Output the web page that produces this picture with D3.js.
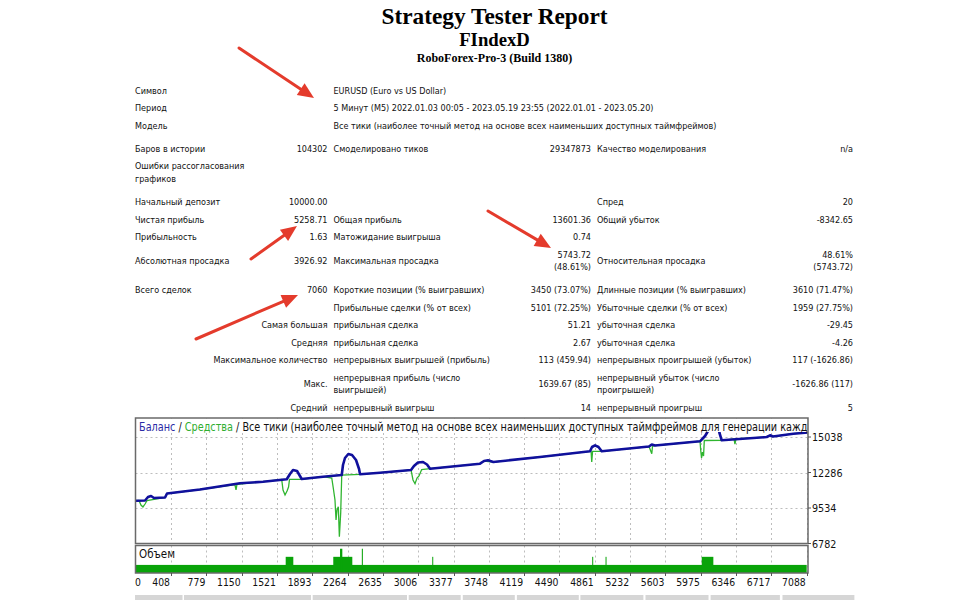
<!DOCTYPE html>
<head>
  <meta charset="utf-8">
  <script src="https://d3js.org/d3.v7.min.js"></script>
  <style>
    body { margin: 0; background: #fff; }
    svg { display: block; }
  </style>
</head>

<body>
  <svg width="954" height="600"></svg>

  <script>
    // ---- report table (text) ----
    const tableRows = [
      ['Символ', '', 'EURUSD (Euro vs US Dollar)', '', '', ''],
      ['Период', '', '5 Минут (M5) 2022.01.03 00:05 - 2023.05.19 23:55 (2022.01.01 - 2023.05.20)', '', '', ''],
      ['Модель', '', 'Все тики (наиболее точный метод на основе всех наименьших доступных таймфреймов)', '', '', ''],
      ['Баров в истории', '104302', 'Смоделировано тиков', '29347873', 'Качество моделирования', 'n/a'],
      ['Ошибки рассогласования\nграфиков', '', '', '', '', ''],
      ['Начальный депозит', '10000.00', '', '', 'Спред', '20'],
      ['Чистая прибыль', '5258.71', 'Общая прибыль', '13601.36', 'Общий убыток', '-8342.65'],
      ['Прибыльность', '1.63', 'Матожидание выигрыша', '0.74', '', ''],
      ['Абсолютная просадка', '3926.92', 'Максимальная просадка', '5743.72\n(48.61%)', 'Относительная просадка', '48.61%\n(5743.72)'],
      ['Всего сделок', '7060', 'Короткие позиции (% выигравших)', '3450 (73.07%)', 'Длинные позиции (% выигравших)', '3610 (71.47%)'],
      ['', '', 'Прибыльные сделки (% от всех)', '5101 (72.25%)', 'Убыточные сделки (% от всех)', '1959 (27.75%)'],
      ['', 'Самая большая', 'прибыльная сделка', '51.21', 'убыточная сделка', '-29.45'],
      ['', 'Средняя', 'прибыльная сделка', '2.67', 'убыточная сделка', '-4.26'],
      ['', 'Максимальное количество', 'непрерывных выигрышей (прибыль)', '113 (459.94)', 'непрерывных проигрышей (убыток)', '117 (-1626.86)'],
      ['', 'Макс.', 'непрерывная прибыль (число\nвыигрышей)', '1639.67 (85)', 'непрерывный убыток (число\nпроигрышей)', '-1626.86 (117)'],
      ['', 'Средний', 'непрерывный выигрыш', '14', 'непрерывный проигрыш', '5']
    ];
    const sectionStarts = [3, 5, 9];

    // ---- balance / equity chart ----
    const balanceTrades = [0, 135, 166, 198, 229, 345, 366, 712, 1133, 1375, 1624, 1658, 1690, 1732, 1763, 1781,
      2005, 2202, 2215, 2236, 2271, 2310, 2352, 2384, 2394, 2604, 2930, 2961, 3003, 3056, 3098, 3130,
      3655, 3697, 3739, 3795, 4285, 4811, 4832, 4864, 4900, 4934, 5431, 5460, 5494, 5967, 6020, 6051,
      6083, 6114, 6146, 6170, 6195, 6668, 6703, 6734, 6948, 7102];
    const balanceValues = [10080, 10115, 10387, 10464, 10309, 10348, 10658, 10968, 11449, 11573, 11759, 12170, 12480, 12402, 12015, 11782,
      11960, 12092, 12868, 13410, 13720, 13643, 13255, 12557, 12147, 12270, 12480, 12790, 13061, 13100, 12906, 12581,
      12968, 13177, 13232, 13100, 13488, 13929, 14263, 14395, 14263, 13929, 14302, 14457, 14379, 14705, 15116, 15503,
      16046, 16356, 16046, 15387, 14782, 15038, 15170, 15077, 15294, 15387];

    const equityTrades = [0, 71, 92, 113, 135, 156, 345, 366, 712, 1079, 1091, 1101, 1375, 1571, 1585, 1606, 1627, 1643, 1653, 1781,
      2005, 2097, 2113, 2131, 2142, 2152, 2166, 2177, 2191, 2202, 2394, 2604, 2930, 2951, 2972, 2993, 3014, 3042, 3130,
      3655, 3697, 3795, 4285, 4811, 4822, 4829, 4838, 4934, 5431, 5460, 5468, 5494, 5967, 5974, 5983, 5993, 6004, 6012,
      6195, 6324, 6334, 6345, 6668, 6703, 6734, 6948, 7102];
    const equityValues = [10080, 10115, 9766, 9612, 9844, 10115, 10348, 10658, 10968, 11356, 10930, 11371, 11573, 11744, 10930, 10542, 10852, 11162, 11759, 11759,
      11960, 11859, 11084, 10154, 8604, 9379, 9635, 7309, 9146, 12092, 12147, 12270, 12480, 11705, 11418, 11860, 12015, 12519, 12581,
      12968, 13177, 13100, 13488, 13929, 13929, 13100, 13929, 13929, 14302, 13743, 14340, 14379, 14705, 14030, 13410, 13875, 13565, 14767,
      14782, 14883, 14495, 14898, 15038, 15170, 15077, 15294, 15387];

    // volume (lots) by trade ranges
    const volumeFrom = [0, 1613, 2113, 2184, 2413, 3153, 4834, 4974, 5985];
    const volumeTo = [7088, 1693, 2313, 2208, 2424, 3163, 4844, 4984, 6107];
    const volumeLots = [1, 2, 2, 3, 3, 2, 2, 2, 2];

    const xTickValues = [0, 408, 779, 1150, 1521, 1893, 2264, 2635, 3006, 3377, 3748, 4119, 4490, 4861, 5232, 5603, 5975, 6346, 6717, 7088];
    const yTickValues = [15038, 12286, 9534, 6782];

    const svg = d3.select('svg');
    const SX = 0.87;
    const sans = 'DejaVu Sans';

    const label = (sel, x, y, s, anchor, size, fill, sx) => sel.append('text')
      .attr('transform', `translate(${x},${y}) scale(${sx || SX},1)`)
      .attr('text-anchor', anchor || 'start')
      .style('font-family', sans)
      .style('font-size', (size || 9.3) + 'px')
      .attr('fill', fill || '#111')
      .text(s);

    // ---- headings ----
    const head = svg.append('g')
      .attr('text-anchor', 'middle')
      .style('font-family', '"Liberation Serif", "Times New Roman", serif')
      .style('font-weight', 'bold')
      .attr('fill', '#000');
    head.append('text').attr('x', 494.5).attr('y', 23.5).style('font-size', '23.3px').text('Strategy Tester Report');
    head.append('text').attr('x', 494.5).attr('y', 46).style('font-size', '18.7px').text('FIndexD');
    head.append('text').attr('x', 494.5).attr('y', 61.5).style('font-size', '12px').text('RoboForex-Pro-3 (Build 1380)');

    // ---- table ----
    const colX = [135, 327.5, 333.5, 591, 597, 853];
    const colAnchor = ['start', 'end', 'start', 'end', 'start', 'end'];
    const rowH = 17.5, lineH = 12.5, gap = 5.8;
    const table = svg.append('g');
    let cy = 90, prevHalf = null;
    tableRows.forEach((row, i) => {
      const lines = d3.max(row, c => c.split('\n').length);
      const half = (rowH + lineH * (lines - 1)) / 2;
      if (prevHalf !== null) cy += prevHalf + half + (sectionStarts.includes(i) ? gap : 0);
      row.forEach((cell, j) => {
        if (!cell) return;
        const parts = cell.split('\n');
        parts.forEach((p, k) => {
          const yy = cy + (k - (parts.length - 1) / 2) * lineH + 3.5;
          label(table, colX[j], yy, p, colAnchor[j]);
        });
      });
      prevHalf = half;
    });

    // ---- chart ----
    const L = 135.5, R = 808, T = 418, B = 543.5, VT = 545.5, VB = 573;
    const x = d3.scaleLinear().domain([0, 7088]).range([132.2, 806.7]);
    const y = d3.scaleLinear().domain([6782, 15038]).range([543.5, 437]);
    const yv = d3.scaleLinear().domain([0, 3.4]).range([VB, VT]);

    const defs = svg.append('defs');
    defs.append('clipPath').attr('id', 'clipMain')
      .append('rect').attr('x', L + 0.5).attr('y', T + 0.5).attr('width', R - L - 1).attr('height', B - T - 1);
    defs.append('clipPath').attr('id', 'clipVol')
      .append('rect').attr('x', L + 0.5).attr('y', VT).attr('width', R - L - 1).attr('height', VB - VT);

    const grid = svg.append('g')
      .attr('stroke', '#bdbdbd').attr('stroke-width', 1).attr('stroke-dasharray', '2,3');
    xTickValues.slice(1).forEach(v => {
      const xx = Math.round(x(v)) + 0.5;
      grid.append('line').attr('x1', xx).attr('x2', xx).attr('y1', T).attr('y2', B);
      grid.append('line').attr('x1', xx).attr('x2', xx).attr('y1', VT).attr('y2', VB);
    });
    yTickValues.slice(0, 3).forEach(v => {
      const yy = Math.round(y(v)) + 0.5;
      grid.append('line').attr('x1', L).attr('x2', R).attr('y1', yy).attr('y2', yy);
    });

    const main = svg.append('g').attr('clip-path', 'url(#clipMain)');
    const line = d3.line().x(d => x(d[0])).y(d => y(d[1]));
    main.append('path')
      .datum(equityTrades.map((t, i) => [t, equityValues[i]]))
      .attr('d', line).attr('fill', 'none').attr('stroke', '#2fb52f').attr('stroke-width', 1.3);
    main.append('path')
      .datum(balanceTrades.map((t, i) => [t, balanceValues[i]]))
      .attr('d', line).attr('fill', 'none').attr('stroke', '#10109c').attr('stroke-width', 2.6)
      .attr('stroke-linejoin', 'round');

    // title band of the chart
    main.append('rect').attr('x', L).attr('y', T).attr('width', R - L).attr('height', 14).attr('fill', '#fff');
    const ttl = main.append('text')
      .attr('transform', `translate(139,431) scale(0.843,1)`)
      .style('font-family', sans).style('font-size', '11.5px').attr('fill', '#111');
    ttl.append('tspan').attr('fill', '#2b2ba6').text('Баланс');
    ttl.append('tspan').text(' / ');
    ttl.append('tspan').attr('fill', '#2fae2f').text('Средства');
    ttl.append('tspan').text(' / Все тики (наиболее точный метод на основе всех наименьших доступных таймфреймов для генерации каждо');

    // volume panel
    const vol = svg.append('g').attr('clip-path', 'url(#clipVol)');
    vol.selectAll('rect').data(volumeFrom).join('rect')
      .attr('x', (d, i) => x(d))
      .attr('width', (d, i) => Math.max(1, x(volumeTo[i]) - x(d)))
      .attr('y', (d, i) => yv(volumeLots[i]))
      .attr('height', (d, i) => VB - yv(volumeLots[i]))
      .attr('fill', '#09a309');
    label(svg, 139, 558, 'Объем', 'start', 11.5, '#111', 0.9);

    // frames
    svg.append('rect').attr('x', L).attr('y', T).attr('width', R - L).attr('height', B - T)
      .attr('fill', 'none').attr('stroke', '#6a6a6a').attr('stroke-width', 1.5);
    svg.append('rect').attr('x', L).attr('y', VT).attr('width', R - L).attr('height', VB - VT)
      .attr('fill', 'none').attr('stroke', '#6a6a6a').attr('stroke-width', 1.5);

    // axes labels
    const ax = svg.append('g');
    xTickValues.forEach((v, i) => {
      if (i > 0) {
        const xx = Math.round(x(v)) + 0.5;
        ax.append('line').attr('x1', xx).attr('x2', xx).attr('y1', VB).attr('y2', VB + 3)
          .attr('stroke', '#555');
      }
      label(ax, Math.max(x(v) - 1, L + 5.5), 586, String(v), 'end', 10.67, '#111');
    });
    yTickValues.forEach(v => {
      ax.append('line').attr('x1', R).attr('x2', R + 3).attr('y1', y(v)).attr('y2', y(v)).attr('stroke', '#555');
      label(ax, 812, y(v) + 4, String(v), 'start', 10.67, '#111', 0.9);
    });

    // grey header cells of the next table
    const cellEdges = [[135, 182.5], [184, 311], [312.7, 407], [408.7, 460.7], [462.8, 514.8],
      [516.9, 578.8], [580.4, 643.4], [645.5, 708.5], [710.6, 779.9], [782.5, 854.4]];
    svg.append('g').selectAll('rect').data(cellEdges).join('rect')
      .attr('x', d => d[0]).attr('width', d => d[1] - d[0])
      .attr('y', 595).attr('height', 10).attr('fill', '#d6d6d6');

    // red arrows
    const arrows = [
      [[239, 48], [314, 98]],
      [[251, 259], [297, 226]],
      [[488, 211], [551, 248]],
      [[196, 339], [298, 295]]
    ];
    const ar = svg.append('g').attr('fill', '#e43b2c').attr('stroke', '#e43b2c');
    arrows.forEach(([a, b]) => {
      const dx = b[0] - a[0], dy = b[1] - a[1];
      const len = Math.hypot(dx, dy), ux = dx / len, uy = dy / len;
      const hl = 16, hw = 7;
      const bx = b[0] - ux * hl, by = b[1] - uy * hl;
      ar.append('line').attr('x1', a[0]).attr('y1', a[1]).attr('x2', bx + ux * 2).attr('y2', by + uy * 2)
        .attr('stroke-width', 3).attr('stroke-linecap', 'round');
      ar.append('path').attr('stroke', 'none')
        .attr('d', `M${b[0]},${b[1]}L${bx - uy * hw},${by + ux * hw}L${bx + uy * hw},${by - ux * hw}Z`);
    });
  </script>
</body>
